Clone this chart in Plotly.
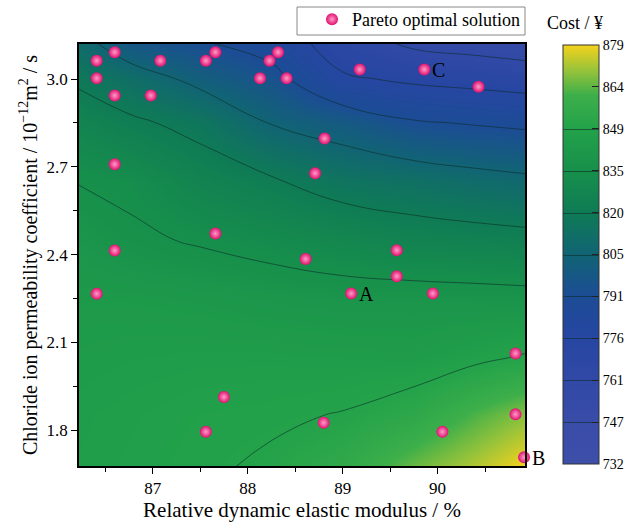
import numpy as np
import plotly.graph_objects as go

# ---- cost response surface (¥), sampled on a grid ----
grid_x = [86.2, 86.75, 87.5, 88.25, 89.0, 89.75, 90.4, 90.95]
grid_y = [1.67, 1.85, 2.05, 2.25, 2.45, 2.65, 2.85, 3.0, 3.13]
cost_1_67 = [846, 847, 848.5, 850.8, 856, 866, 873, 880]
cost_1_85 = [845.6, 846.5, 847.8, 848.5, 850, 854.5, 863, 869]
cost_2_05 = [844.4, 845, 845.5, 845.5, 845, 844.5, 847.5, 850.5]
cost_2_25 = [842.5, 842.5, 841.5, 840, 839, 839, 838.5, 838]
cost_2_45 = [839.5, 836.5, 834, 831.4, 828.5, 825.5, 824.5, 823.5]
cost_2_65 = [834.7, 833, 826, 821.4, 815.5, 813, 810, 808]
cost_2_85 = [827, 822.2, 817, 805, 799.5, 792, 790, 788.5]
cost_3_00 = [818.5, 812.5, 802, 795, 778, 774, 772, 770]
cost_3_13 = [810, 796.5, 791, 785, 768, 758, 755, 752]

# ---- Pareto optimal solutions ----
pareto_modulus = [86.22, 86.22, 87.56, 87.75, 88.80, 90.05, 90.82, 90.82, 90.91,
                  87.66, 86.60, 86.41, 88.71, 88.61, 89.57, 89.57, 89.09, 89.95,
                  86.60, 86.41, 87.08, 86.41, 86.60, 86.98, 87.56, 87.66, 88.13,
                  88.23, 88.32, 88.41, 86.60, 89.18, 89.86, 90.43, 88.81]
pareto_chloride = [1.680, 1.854, 1.794, 1.913, 1.825, 1.794, 1.854, 2.062, 1.707,
                   2.472, 2.414, 2.266, 2.678, 2.385, 2.415, 2.326, 2.267, 2.267,
                   3.092, 3.063, 3.063, 3.003, 2.944, 2.944, 3.063, 3.092, 3.003,
                   3.063, 3.092, 3.003, 2.709, 3.033, 3.033, 2.974, 2.797]

# labelled solutions
marked_names = ["A", "B", "C"]
marked_modulus = [89.09, 90.91, 89.86]
marked_chloride = [2.267, 1.707, 3.033]

cost_min, cost_max = 732, 879
cbar_labels = ["732", "747", "761", "776", "791", "805", "820", "835", "849", "864", "879"]

x_range = [86.224, 90.92]
y_range = [1.677, 3.12]

SERIF = "Liberation Serif"

# plot area in pixels
L, R, T, B = 79, 525, 44, 466
W, H = 630, 522
PW, PH = R - L, B - T


def px_x(p):
    return (p - L) / PW


def px_y(p):
    return (B - p) / PH


cost_grid = [cost_1_67, cost_1_85, cost_2_05, cost_2_25, cost_2_45,
             cost_2_65, cost_2_85, cost_3_00, cost_3_13]

step = (cost_max - cost_min) / 10
colorscale = [
    [0.00, "#3d4fa9"], [0.10, "#394ca8"], [0.20, "#3149a6"], [0.30, "#2646a2"],
    [0.40, "#1c4c95"], [0.50, "#116474"], [0.60, "#0f7b55"], [0.70, "#17904b"],
    [0.80, "#23a24a"], [0.88, "#3daf4a"], [0.94, "#98c33a"], [1.00, "#f5d21c"],
]

fig = go.Figure()

# filled surface with iso-cost lines up to the 849.6 level
fig.add_trace(go.Contour(
    x=grid_x, y=grid_y, z=cost_grid,
    zmin=cost_min, zmax=cost_max,
    colorscale=colorscale,
    contours=dict(start=cost_min + step, end=cost_min + 8 * step, size=step,
                  coloring="heatmap", showlines=True),
    line=dict(color="rgba(12,45,40,0.6)", width=1, smoothing=1.3),
    showlegend=False,
    hoverinfo="skip",
    colorbar=dict(
        tickvals=list(np.linspace(cost_min, cost_max, len(cbar_labels))),
        ticktext=cbar_labels,
        ticks="inside", ticklen=7, tickcolor="#222",
        tickfont=dict(family=SERIF, size=14, color="black"),
        thickness=36, thicknessmode="pixels",
        len=419, lenmode="pixels",
        x=px_x(563), xanchor="left",
        y=px_y(45), yanchor="top", ypad=0, xpad=0,
        outlinewidth=1, outlinecolor="#333",
    ),
))

fig.add_trace(go.Scatter(
    x=pareto_modulus, y=pareto_chloride,
    mode="markers",
    name="Pareto optimal solution",
    marker=dict(size=12, color="#e0106f",
                gradient=dict(type="radial", color="#ff9cc8"),
                line=dict(width=0)),
    cliponaxis=False,
    hoverinfo="x+y",
))

for name, mx, my in zip(marked_names, marked_modulus, marked_chloride):
    fig.add_annotation(x=mx, y=my, text=name, showarrow=False,
                       xanchor="left", xshift=6, yshift=-1,
                       font=dict(family=SERIF, size=20, color="black"))

# colour bar heading
fig.add_annotation(xref="paper", yref="paper", x=px_x(545), y=px_y(23),
                   xanchor="left", yanchor="middle", showarrow=False,
                   text="Cost / ¥", font=dict(family=SERIF, size=18, color="black"))

# legend frame
fig.add_shape(type="rect", xref="paper", yref="paper",
              x0=px_x(297), x1=px_x(525), y0=px_y(35), y1=px_y(7),
              line=dict(color="#888", width=1), fillcolor="white", layer="below")

fig.update_layout(
    width=W, height=H,
    margin=dict(l=L, r=W - R, t=T, b=H - B, autoexpand=False),
    paper_bgcolor="white", plot_bgcolor="white",
    font=dict(family=SERIF, color="black"),
    showlegend=True,
    legend=dict(
        x=1, xanchor="right", y=px_y(1), yanchor="top",
        bgcolor="rgba(0,0,0,0)", borderwidth=0,
        font=dict(family=SERIF, size=18, color="black"),
        itemwidth=30,
    ),
    xaxis=dict(
        range=x_range, showgrid=False, zeroline=False,
        tickvals=[87, 88, 89, 90], ticks="outside", ticklen=6, tickwidth=1.2,
        tickcolor="black", showline=True, linecolor="black", linewidth=1.5, mirror=True,
        minor=dict(tickvals=[86.5, 87.5, 88.5, 89.5, 90.5], ticks="outside",
                   ticklen=4, tickcolor="black"),
        tickfont=dict(family=SERIF, size=17, color="black"),
        title=dict(text="Relative dynamic elastic modulus / %", standoff=2,
                   font=dict(family=SERIF, size=21, color="black")),
    ),
    yaxis=dict(
        range=y_range, showgrid=False, zeroline=False,
        tickvals=[1.8, 2.1, 2.4, 2.7, 3.0], tickformat=".1f",
        ticks="outside", ticklen=6, tickwidth=1.2, tickcolor="black",
        showline=True, linecolor="black", linewidth=1.5, mirror=True,
        minor=dict(tickvals=[1.95, 2.25, 2.55, 2.85], ticks="outside",
                   ticklen=4, tickcolor="black"),
        tickfont=dict(family=SERIF, size=17, color="black"),
        title=dict(text="Chloride ion permeability coefficient / 10<sup>−12</sup>m<sup>2</sup> / s",
                   standoff=4, font=dict(family=SERIF, size=20, color="black")),
    ),
)

fig.write_html("out.html")
